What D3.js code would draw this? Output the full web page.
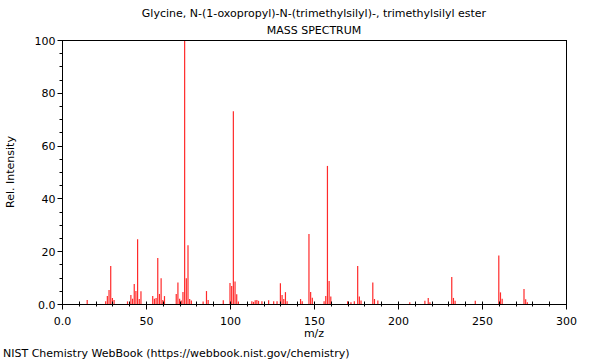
<!DOCTYPE html>
<html>
<head>
<meta charset="utf-8">
<script src="https://cdn.jsdelivr.net/npm/d3@7"></script>
<style>
  body { margin: 0; background: #fff; }
  text { font-family: "DejaVu Sans", sans-serif; fill: #000; }
</style>
</head>
<body>
<div id="chart"></div>
<script>
// Data
const mz = [15, 26, 27, 28, 29, 30, 31, 39, 41, 42, 43, 44, 45, 46, 47, 54, 55, 56, 57, 58, 59, 60, 61,
  68, 69, 70, 71, 72, 73, 74, 75, 76, 77, 84, 86, 87, 96, 100, 101, 102, 103, 104, 105,
  113, 114, 115, 116, 117, 119, 123, 126, 128, 130, 131, 132, 133, 134, 142, 143, 147, 148, 149,
  156, 157, 158, 159, 160, 170, 172, 174, 176, 177, 178, 185, 186, 188, 207, 216, 218, 219,
  232, 233, 234, 246, 260, 261, 262, 275, 276, 277];
const intensity = [1.5, 1.0, 3.0, 5.3, 14.4, 2.3, 1.5, 1.0, 3.4, 2.0, 7.6, 4.9, 24.5, 1.9, 4.8, 3.0, 2.0, 2.3, 17.4, 3.8, 9.8, 1.5, 3.0,
  3.8, 8.1, 2.0, 1.3, 4.5, 100, 9.8, 22.3, 1.9, 1.3, 0.9, 4.9, 1.5, 1.4, 8.0, 6.8, 73, 8.5, 3.7, 0.9,
  1.0, 0.8, 1.4, 1.5, 1.2, 1.0, 1.4, 1.0, 1.0, 7.9, 3.4, 1.9, 4.5, 1.0, 1.9, 1.0, 26.5, 4.5, 2.4,
  1.0, 3.0, 52.3, 8.7, 2.8, 1.0, 0.7, 1.0, 14.4, 2.8, 1.3, 8.1, 1.9, 1.3, 0.7, 1.2, 2.3, 0.7,
  10.2, 2.3, 1.2, 1.2, 18.4, 4.4, 2.0, 5.7, 1.8, 0.7];
const xTicks = [0, 50, 100, 150, 200, 250, 300];
const xTickLabels = ["0.0", "50", "100", "150", "200", "250", "300"];
const yTicks = [0, 20, 40, 60, 80, 100];
const yTickLabels = ["0.0", "20", "40", "60", "80", "100"];

const width = 600, height = 360;
const plotLeft = 62, plotRight = 566, plotTop = 40, plotBottom = 304;

const svg = d3.select("#chart").append("svg")
  .attr("width", width)
  .attr("height", height);

const x = d3.scaleLinear().domain([0, 300]).range([plotLeft, plotRight]);
const y = d3.scaleLinear().domain([0, 100]).range([plotBottom, plotTop]);

// Titles
svg.append("text")
  .attr("x", (plotLeft + plotRight) / 2).attr("y", 17)
  .attr("text-anchor", "middle").style("font-size", "11px")
  .text("Glycine, N-(1-oxopropyl)-N-(trimethylsilyl)-, trimethylsilyl ester");
svg.append("text")
  .attr("x", (plotLeft + plotRight) / 2).attr("y", 34)
  .attr("text-anchor", "middle").style("font-size", "11px")
  .text("MASS SPECTRUM");

// Peaks
const peaks = mz.map((m, i) => ({ m: m, v: intensity[i] }));
svg.append("g")
  .selectAll("line")
  .data(peaks)
  .enter()
  .append("line")
  .attr("x1", d => x(d.m))
  .attr("x2", d => x(d.m))
  .attr("y1", y(0))
  .attr("y2", d => y(d.v))
  .attr("stroke", "#ff2a2a")
  .attr("stroke-width", 1.2);

// Frame
svg.append("rect")
  .attr("x", plotLeft + 0.5).attr("y", plotTop + 0.5)
  .attr("width", plotRight - plotLeft).attr("height", plotBottom - plotTop)
  .attr("fill", "none")
  .attr("stroke", "#000")
  .attr("stroke-width", 1);

// X axis ticks
const xg = svg.append("g").attr("transform", `translate(0.5,${plotBottom + 0.5})`);
xg.selectAll("line.minor")
  .data(d3.range(0, 301, 10))
  .enter().append("line")
  .attr("class", "minor")
  .attr("x1", d => Math.round(x(d))).attr("x2", d => Math.round(x(d)))
  .attr("y1", -3).attr("y2", 2)
  .attr("stroke", "#000");
xg.selectAll("line.major")
  .data(xTicks)
  .enter().append("line")
  .attr("class", "major")
  .attr("x1", d => Math.round(x(d))).attr("x2", d => Math.round(x(d)))
  .attr("y1", 0).attr("y2", 5)
  .attr("stroke", "#000");
xg.selectAll("text")
  .data(xTicks)
  .enter().append("text")
  .attr("x", d => x(d)).attr("y", 20)
  .attr("text-anchor", "middle").style("font-size", "11px")
  .text((d, i) => xTickLabels[i]);

// Y axis ticks
const yg = svg.append("g").attr("transform", `translate(${plotLeft + 0.5},0.5)`);
yg.selectAll("line.minor")
  .data(d3.range(0, 101, 5))
  .enter().append("line")
  .attr("class", "minor")
  .attr("x1", -3).attr("x2", 0)
  .attr("y1", d => Math.round(y(d))).attr("y2", d => Math.round(y(d)))
  .attr("stroke", "#000");
yg.selectAll("line.major")
  .data(yTicks)
  .enter().append("line")
  .attr("class", "major")
  .attr("x1", -5).attr("x2", 0)
  .attr("y1", d => Math.round(y(d))).attr("y2", d => Math.round(y(d)))
  .attr("stroke", "#000");
yg.selectAll("text")
  .data(yTicks)
  .enter().append("text")
  .attr("x", -7).attr("y", d => y(d) + 4)
  .attr("text-anchor", "end").style("font-size", "11px")
  .text((d, i) => yTickLabels[i]);

// Axis labels
svg.append("text")
  .attr("x", (plotLeft + plotRight) / 2).attr("y", 337)
  .attr("text-anchor", "middle").style("font-size", "11px")
  .text("m/z");
svg.append("text")
  .attr("transform", `translate(14,${(plotTop + plotBottom) / 2}) rotate(-90)`)
  .attr("text-anchor", "middle").style("font-size", "11px")
  .text("Rel. Intensity");

// Footer
svg.append("text")
  .attr("x", 3).attr("y", 357)
  .style("font-size", "11px")
  .text("NIST Chemistry WebBook (https://webbook.nist.gov/chemistry)");
</script>
</body>
</html>
